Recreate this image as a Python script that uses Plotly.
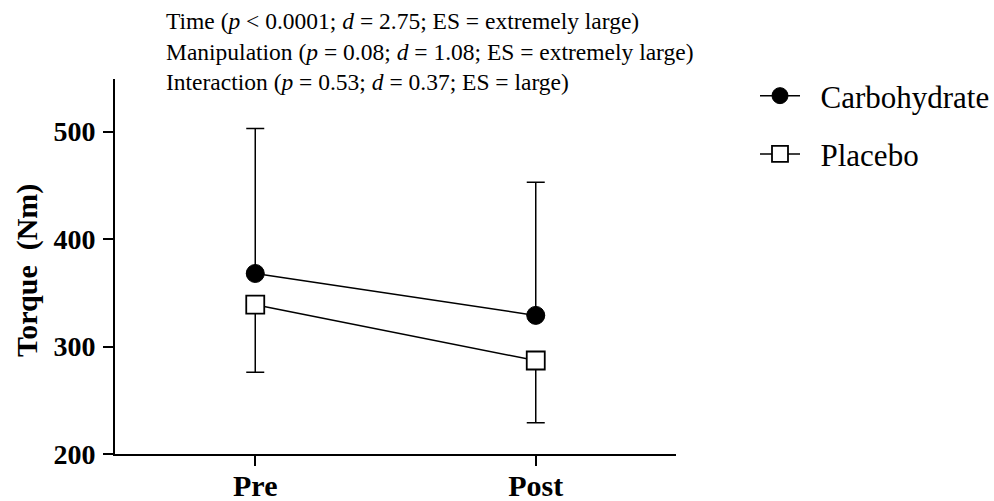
import plotly.graph_objects as go

categories = ["Pre", "Post"]
carb_mean = [368, 329]
carb_sd = [135, 124]
plac_mean = [339, 287]
plac_sd = [63, 58]
y_ticks = [200, 300, 400, 500]
series_names = ["Carbohydrate", "Placebo"]
stats_lines = [
    "Time (<i>p</i> < 0.0001; <i>d</i> = 2.75; ES = extremely large)",
    "Manipulation (<i>p</i> = 0.08; <i>d</i> = 1.08; ES = extremely large)",
    "Interaction (<i>p</i> = 0.53; <i>d</i> = 0.37; ES = large)",
]

FONT = "Liberation Serif, Times New Roman, serif"
GAP = "\u00a0\u00a0"  # extra space between legend symbol and label

# plot area on the page: 115..676 x 79..454 (body margin removed below)
PL, PT, PW, PH = 115, 79, 561, 375
W, H = 994, 501


def px(xp):
    return (xp - PL) / PW


def py(yp):
    return 1 + (PT - yp) / PH


fig = go.Figure()
fig.add_trace(go.Scatter(
    x=categories, y=carb_mean, name=GAP + series_names[0], mode="lines+markers",
    line=dict(color="black", width=1.5),
    marker=dict(symbol="circle", size=18, color="black", line=dict(color="black", width=1)),
    error_y=dict(type="data", symmetric=False, array=carb_sd, arrayminus=[0, 0],
                 color="black", thickness=1.5, width=9),
    legendgroup="a",
))
fig.add_trace(go.Scatter(
    x=categories, y=plac_mean, name=GAP + series_names[1], mode="lines+markers",
    line=dict(color="black", width=1.5),
    marker=dict(symbol="square", size=18, color="white", line=dict(color="black", width=1.8)),
    error_y=dict(type="data", symmetric=False, array=[0, 0], arrayminus=plac_sd,
                 color="black", thickness=1.5, width=9),
    legendgroup="b",
))

for i, t in enumerate(stats_lines):
    fig.add_annotation(
        text=t, xref="paper", yref="paper",
        x=px(164), y=py(21 + 30.5 * i),
        xanchor="left", yanchor="middle", showarrow=False,
        font=dict(family=FONT, size=23.5, color="black"),
    )

fig.add_annotation(
    text="<b>Torque  (Nm)</b>", xref="paper", yref="paper",
    x=px(27), y=py(271), xanchor="center", yanchor="middle",
    textangle=-90, showarrow=False,
    font=dict(family=FONT, size=30, color="black"),
)

fig.update_layout(
    width=W, height=H,
    margin=dict(l=PL, r=W - (PL + PW), t=PT, b=H - (PT + PH), autoexpand=False),
    paper_bgcolor="white", plot_bgcolor="white",
    font=dict(family=FONT, color="black"),
    showlegend=True,
    legend=dict(
        x=px(755), y=py(69), xanchor="left", yanchor="top",
        font=dict(family=FONT, size=31, color="black"),
        traceorder="grouped", tracegroupgap=15, itemwidth=40,
        bgcolor="rgba(0,0,0,0)",
    ),
    xaxis=dict(
        type="category", range=[-0.5, 1.5],
        showline=True, linecolor="black", linewidth=2,
        ticks="outside", ticklen=10, tickwidth=2, tickcolor="black",
        showgrid=False, zeroline=False, ticklabelstandoff=-6,
        tickfont=dict(family=FONT, size=30, color="black"),
        tickvals=categories, ticktext=["<b>%s</b>" % c for c in categories],
    ),
    yaxis=dict(
        range=[200, 549],
        showline=True, linecolor="black", linewidth=2,
        ticks="outside", ticklen=10, tickwidth=2, tickcolor="black",
        showgrid=False, zeroline=False, ticklabelstandoff=2,
        tickvals=y_ticks, ticktext=["<b>%d</b>" % v for v in y_ticks],
        tickfont=dict(family=FONT, size=28, color="black"),
    ),
)

fig.write_html(
    "out.html",
    config={"displayModeBar": False},
    post_script="document.body.style.margin='0';document.body.style.overflow='hidden';",
)
